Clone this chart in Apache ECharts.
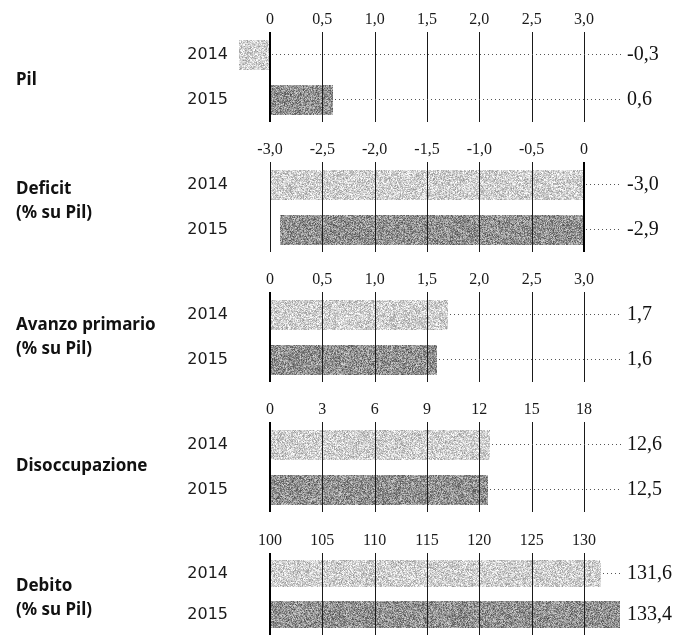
<!DOCTYPE html>
<html>
<head>
<meta charset="utf-8">
<script src="https://cdn.jsdelivr.net/npm/echarts@6/dist/echarts.min.js"></script>
<style>
  html, body { margin: 0; padding: 0; background: #fff; }
  #chart { width: 676px; height: 635px; }
</style>
</head>
<body>
<div id="chart"></div>
<script>
// Categories shared by every panel
const years = ['2014', '2015'];

// Panel titles (one entry per line)
const panelTitles = [
  ['Pil'],
  ['Deficit', '(% su Pil)'],
  ['Avanzo primario', '(% su Pil)'],
  ['Disoccupazione'],
  ['Debito', '(% su Pil)']
];

// Series values, 2014 then 2015
const pilValues = [-0.3, 0.6];
const deficitValues = [-3.0, -2.9];
const avanzoValues = [1.7, 1.6];
const disoccupazioneValues = [12.6, 12.5];
const debitoValues = [131.6, 133.4];
const panelValues = [pilValues, deficitValues, avanzoValues, disoccupazioneValues, debitoValues];

// Axis ranges and tick steps for each panel
const axisMins = [0, -3, 0, 0, 100];
const axisMaxs = [3, 0, 3, 18, 130];
const axisIntervals = [0.5, 0.5, 0.5, 3, 5];
const tickDecimals = [1, 1, 1, 0, 0];
const barBases = [0, 0, 0, 0, 100];

// Layout
const gridTops = [32, 162, 292, 422, 553];
const gridHeight = 90;
const gridLeft = 270;
const gridWidth = 314;
const titleCenters = [80, 201, 337, 466, 598];

function fmt(v, d) {
  if (v === 0) return '0';
  return v.toFixed(d).replace('.', ',');
}

// Tick values of a panel, used for the vertical rules drawn over the bars
function tickValues(p) {
  const out = [];
  const steps = Math.round((axisMaxs[p] - axisMins[p]) / axisIntervals[p]);
  for (let k = 0; k <= steps; k++) out.push(axisMins[p] + k * axisIntervals[p]);
  return out;
}

// Grainy print-like texture of a given size, with the tick rules baked on top
function grainCanvas(w, h, base, spread, seed, rulesX) {
  w = Math.max(1, Math.round(w)); h = Math.max(1, Math.round(h));
  const c = document.createElement('canvas');
  c.width = w; c.height = h;
  const ctx = c.getContext('2d');
  const img = ctx.createImageData(w, h);
  for (let i = 0; i < w * h; i++) {
    const x = i % w, y = Math.floor(i / w);
    const k = x * 131 + y * 977 + seed;
    const f = (Math.sin(k * 12.9898 + seed * 78.233) * 43758.5453) % 1;
    const g = (Math.sin(k * 4.1414 + 1.7) * 24634.6345) % 1;
    let v = base + (Math.abs(f) - 0.5) * spread + (Math.abs(g) - 0.5) * spread * 0.5;
    v = Math.max(0, Math.min(255, Math.round(v)));
    img.data[i * 4] = v; img.data[i * 4 + 1] = v; img.data[i * 4 + 2] = v; img.data[i * 4 + 3] = 255;
  }
  ctx.putImageData(img, 0, 0);
  ctx.fillStyle = '#1a1a1a';
  rulesX.forEach(rx => { if (rx >= 0 && rx < w) ctx.fillRect(rx, 0, 1, h); });
  return c;
}
const grainBase = [204, 146];
const grainSpread = [90, 100];

const grids = [], xAxes = [], yAxes = [], series = [], graphics = [];

panelValues.forEach((vals, p) => {
  grids.push({ left: gridLeft, top: gridTops[p], width: gridWidth, height: gridHeight });
  xAxes.push({
    gridIndex: p, type: 'value', position: 'top',
    min: axisMins[p], max: axisMaxs[p], interval: axisIntervals[p],
    axisLine: { show: false }, axisTick: { show: false },
    axisLabel: {
      margin: 4, color: '#1a1a1a', fontSize: 16, fontFamily: 'Liberation Serif',
      formatter: v => fmt(v, tickDecimals[p])
    },
    splitLine: { show: false }
  });
  yAxes.push({
    gridIndex: p, type: 'category', data: years, inverse: true,
    axisLine: { show: false }, axisTick: { show: false }, splitLine: { show: false },
    axisLabel: { margin: 42, color: '#1a1a1a', fontSize: 16, fontFamily: 'DejaVu Sans' }
  });

  // Vertical rules at every tick
  series.push({
    type: 'custom', xAxisIndex: p, yAxisIndex: p, clip: false, silent: true,
    encode: { x: 0 },
    data: tickValues(p).map(t => [t, 0]),
    renderItem: (params, api) => {
      const t = api.value(0);
      const x = Math.round(api.coord([t, 0])[0]);
      const cs = params.coordSys;
      const isBase = t === barBases[p];
      return {
        type: 'rect',
        shape: { x: isBase ? x - 1 : x, y: cs.y, width: isBase ? 2 : 1, height: cs.height },
        style: { fill: isBase ? '#000' : '#1a1a1a' }
      };
    }
  });

  // Bars, dotted leaders and value labels
  series.push({
    type: 'custom', xAxisIndex: p, yAxisIndex: p, clip: false,
    encode: { x: 0, y: 1 },
    data: vals.map((v, i) => [v, i]),
    renderItem: (params, api) => {
      const val = api.value(0);
      const cat = api.value(1);
      const base = barBases[p];
      const h = Math.round(api.size([0, 1])[1] * 0.66);
      const a = api.coord([base, cat]);
      const b = api.coord([val, cat]);
      const x0 = Math.round(Math.min(a[0], b[0]));
      const x1 = Math.round(Math.max(a[0], b[0]));
      const y0 = Math.round(a[1] - h / 2);
      const right = params.coordSys.x + params.coordSys.width;
      const leaderEnd = right + 38;
      // rule positions falling inside this bar, relative to its left edge
      const inside = tickValues(p)
        .filter(t => t !== base)
        .map(t => Math.round(api.coord([t, cat])[0]) - x0);
      const children = [{
        type: 'image',
        style: {
          image: grainCanvas(x1 - x0, h, grainBase[cat], grainSpread[cat], p * 7 + cat * 3 + 1, inside),
          x: x0, y: y0, width: x1 - x0, height: h,
          opacity: cat === 0 ? 0.92 : 1
        }
      }];
      if (base !== undefined) {
        const bx = Math.round(a[0]);
        children.push({
          type: 'rect',
          shape: { x: bx - 1, y: y0 - 2, width: 2, height: h + 4 },
          style: { fill: '#000' }
        });
      }
      if (x1 < leaderEnd - 3) {
        children.push({
          type: 'line',
          shape: { x1: x1 + 2, y1: a[1], x2: leaderEnd, y2: a[1] },
          style: { stroke: '#555', lineWidth: 1, lineDash: [1, 3] }
        });
      }
      children.push({
        type: 'text',
        style: {
          x: right + 43, y: a[1], text: fmt(val, 1),
          align: 'left', verticalAlign: 'middle',
          fill: '#111', font: '20px "Liberation Serif"'
        }
      });
      return { type: 'group', children };
    }
  });

  graphics.push({
    type: 'text', left: 16, top: titleCenters[p] - panelTitles[p].length * 12,
    style: {
      text: panelTitles[p].join('\n'), lineHeight: 24,
      fill: '#111', font: 'bold 17px "Noto Sans"'
    }
  });
});

const chart = echarts.init(document.getElementById('chart'), null, { renderer: 'canvas' });
chart.setOption({
  backgroundColor: '#fff',
  animation: false,
  grid: grids,
  xAxis: xAxes,
  yAxis: yAxes,
  series: series,
  graphic: graphics
});
</script>
</body>
</html>
